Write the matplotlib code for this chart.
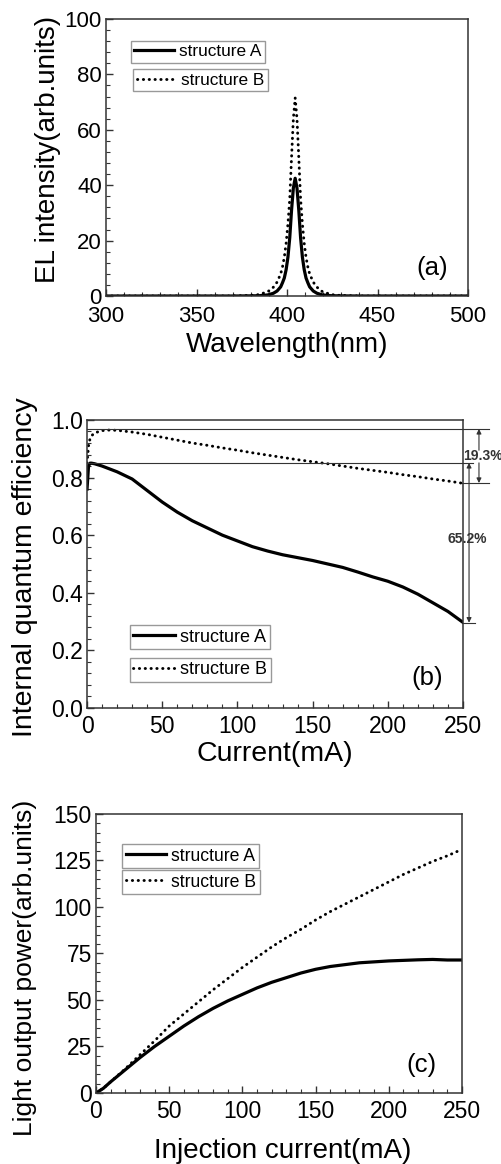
import matplotlib
matplotlib.use('Agg')
import matplotlib.pyplot as plt
from matplotlib.ticker import MultipleLocator, FormatStrFormatter

plt.rcParams['font.family'] = ['Liberation Sans', 'DejaVu Sans']

# (a) EL spectra
wavelength = [300, 370, 379.5, 384.5, 389.5, 392.5, 394.5, 396.5, 397.5, 398.5, 399.5, 400.5,
              401.5, 402.5, 403.5, 404.5, 405.5, 406.5, 407.5, 408.5, 409.5, 410.5, 411.5,
              412.5, 414.5, 416.5, 419.5, 424.5, 429.5, 439.5, 500]
el_a = [0, 0, 0.05, 0.1, 0.4, 1.0, 1.8, 3.3, 4.8, 6.5, 9.5, 14, 21, 31, 39, 42.5,
        39, 31, 21, 14, 9.5, 6.5, 4.8, 3.3, 1.8, 1.0, 0.4, 0.1, 0.05, 0, 0]
el_b = [0, 0, 0.2, 0.5, 1.6, 3.2, 5, 8, 10.5, 14, 19, 26, 35, 50, 64, 71.5,
        64, 50, 35, 26, 19, 14, 10.5, 8, 5, 3.2, 1.6, 0.5, 0.2, 0, 0]

# (b) internal quantum efficiency
iqe_current = [0, 1, 2, 3, 5, 10, 15, 20, 30, 40, 50, 60, 70, 80, 90, 100, 110, 120, 130,
               140, 150, 160, 170, 180, 190, 200, 210, 220, 230, 240, 250]
iqe_a = [0.76, 0.84, 0.85, 0.85, 0.848, 0.84, 0.83, 0.82, 0.795, 0.755, 0.715, 0.68, 0.65,
         0.625, 0.60, 0.58, 0.56, 0.545, 0.532, 0.522, 0.512, 0.50, 0.488, 0.472, 0.455,
         0.44, 0.42, 0.395, 0.365, 0.335, 0.297]
iqe_b = [0.85, 0.91, 0.935, 0.945, 0.955, 0.963, 0.965, 0.964, 0.958, 0.95, 0.94, 0.93, 0.92,
         0.912, 0.903, 0.895, 0.886, 0.878, 0.87, 0.862, 0.855, 0.848, 0.84, 0.832, 0.825,
         0.818, 0.81, 0.803, 0.795, 0.788, 0.78]

# (c) light output power
lop_current = [0, 5, 10, 20, 30, 40, 50, 60, 70, 80, 90, 100, 110, 120, 130, 140, 150, 160,
               170, 180, 190, 200, 210, 220, 230, 240, 250]
lop_a = [0, 2.5, 6, 12.5, 19, 25, 30.5, 36, 41, 45.5, 49.5, 53, 56.5, 59.5, 62, 64.5, 66.5,
         68, 69, 70, 70.5, 71, 71.3, 71.6, 71.8, 71.5, 71.5]
lop_b = [0, 2.5, 6, 13, 20.5, 28, 36, 42.5, 49, 55.5, 61.5, 67.5, 73, 78.5, 83.5, 88, 93,
         97.5, 101.5, 105.5, 109.5, 113.5, 117.5, 121, 124.5, 127.5, 131]

# efficiency droop markers in (b)
peak_a, end_a = 0.851, 0.296
peak_b, end_b = 0.969, 0.781

# round dots for structure B
DOT = dict(linestyle=(0, (0.1, 1.9)), dash_capstyle='round')


def style_axes(ax, xmaj, xmin, ymaj, ymin, fs, xpad=5):
    ax.xaxis.set_major_locator(MultipleLocator(xmaj))
    ax.xaxis.set_minor_locator(MultipleLocator(xmin))
    ax.yaxis.set_major_locator(MultipleLocator(ymaj))
    ax.yaxis.set_minor_locator(MultipleLocator(ymin))
    ax.tick_params(which='both', direction='in', top=False, right=False, labelsize=fs,
                   color='#333333')
    ax.tick_params(which='major', length=5, width=1, pad=3)
    ax.tick_params(axis='x', which='major', pad=xpad)
    ax.tick_params(which='minor', length=3, width=0.8)
    for s in ax.spines.values():
        s.set_linewidth(1.1)
        s.set_color('#333333')


def add_legends(ax, line_a, line_b, pos_a, pos_b, fs):
    kw = dict(loc='upper left', fontsize=fs, fancybox=False, framealpha=1,
              edgecolor='#999999', borderpad=0.2, borderaxespad=0,
              handlelength=2.3, handletextpad=0.3)
    leg_a = ax.legend([line_a], ['structure A'], bbox_to_anchor=pos_a, **kw)
    leg_a.get_frame().set_linewidth(1.0)
    ax.add_artist(leg_a)
    leg_b = ax.legend([line_b], ['structure B'], bbox_to_anchor=pos_b, **kw)
    leg_b.get_frame().set_linewidth(1.0)


fig = plt.figure(figsize=(5.01, 11.64), dpi=100)

# ---- (a)
ax1 = fig.add_axes([0.2116, 0.7457, 0.7226, 0.238])
la, = ax1.plot(wavelength, el_a, color='black', lw=2.3)
lb, = ax1.plot(wavelength, el_b, color='black', lw=2.1, **DOT)
ax1.set_xlim(300, 500)
ax1.set_ylim(0, 100)
style_axes(ax1, 50, 10, 20, 4, 16, xpad=7)
ax1.set_xlabel('Wavelength(nm)', fontsize=20, va='center')
ax1.set_ylabel('EL intensity(arb.units)', fontsize=20, va='center')
ax1.xaxis.set_label_coords(0.5, -0.177)
ax1.yaxis.set_label_coords(-0.16, 0.53)
ax1.text(0.90, 0.10, '(a)', transform=ax1.transAxes, fontsize=18.5, ha='center', va='center')
add_legends(ax1, la, lb, (0.069, 0.921), (0.075, 0.819), 12.4)

# ---- (b)
ax2 = fig.add_axes([0.1737, 0.3918, 0.7505, 0.2474])
la, = ax2.plot(iqe_current, iqe_a, color='black', lw=2.3)
lb, = ax2.plot(iqe_current, iqe_b, color='black', lw=2.1, **DOT)
ax2.set_xlim(0, 250)
ax2.set_ylim(0, 1.0)
style_axes(ax2, 50, 10, 0.2, 0.04, 16.5)
ax2.yaxis.set_major_formatter(FormatStrFormatter('%.1f'))
ax2.set_xlabel('Current(mA)', fontsize=20.5, va='center')
ax2.set_ylabel('Internal quantum efficiency', fontsize=20.5, va='center')
ax2.xaxis.set_label_coords(0.5, -0.16)
ax2.yaxis.set_label_coords(-0.165, 0.49)
ax2.text(0.904, 0.104, '(b)', transform=ax2.transAxes, fontsize=18.5, ha='center', va='center')
add_legends(ax2, la, lb, (0.114, 0.288), (0.114, 0.174), 13)

# guide lines and arrows for the droop values
gl = dict(color='#333333', lw=0.8, clip_on=False)
ax2.plot([0, 267], [peak_b, peak_b], **gl)
ax2.plot([0, 256.6], [peak_a, peak_a], **gl)
ax2.plot([249, 267], [end_b, end_b], **gl)
ax2.plot([250, 258], [end_a, end_a], **gl)
arr = dict(arrowstyle='-|>', color='#333333', lw=0.8, mutation_scale=7, shrinkA=0, shrinkB=0)
ax2.annotate('', xy=(260.6, peak_b), xytext=(260.6, 0.895), arrowprops=arr, annotation_clip=False)
ax2.annotate('', xy=(260.6, end_b), xytext=(260.6, peak_a), arrowprops=arr, annotation_clip=False)
arr2 = dict(arr, arrowstyle='<|-|>')
ax2.annotate('', xy=(254, end_a), xytext=(254, peak_a), arrowprops=arr2, annotation_clip=False)
ax2.text(263, 0.875, '19.3%', fontsize=10, fontweight='bold', color='#333333',
         ha='center', va='center', clip_on=False)
ax2.text(253, 0.587, '65.2%', fontsize=10, fontweight='bold', color='#333333',
         ha='center', va='center', clip_on=False)

# ---- (c)
ax3 = fig.add_axes([0.1916, 0.061, 0.7305, 0.2397])
la, = ax3.plot(lop_current, lop_a, color='black', lw=2.3)
lb, = ax3.plot(lop_current, lop_b, color='black', lw=2.1, **DOT)
ax3.set_xlim(0, 250)
ax3.set_ylim(0, 150)
style_axes(ax3, 50, 10, 25, 5, 16.5)
ax3.set_xlabel('Injection current(mA)', fontsize=20, va='center')
ax3.set_ylabel('Light output power(arb.units)', fontsize=19, va='center')
ax3.xaxis.set_label_coords(0.511, -0.208)
ax3.yaxis.set_label_coords(-0.194, 0.45)
ax3.text(0.89, 0.10, '(c)', transform=ax3.transAxes, fontsize=18.5, ha='center', va='center')
add_legends(ax3, la, lb, (0.071, 0.892), (0.071, 0.799), 12.7)

fig.savefig('out.png', dpi=100, facecolor='white')
